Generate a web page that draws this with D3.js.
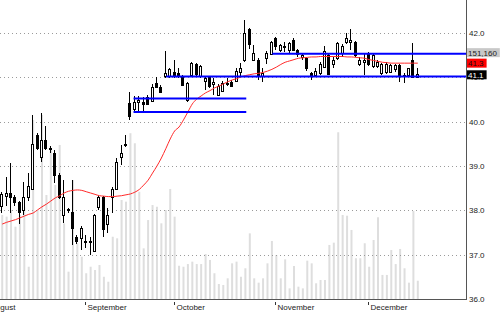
<!DOCTYPE html>
<html>
<head>
<meta charset="utf-8">
<script src="https://cdn.jsdelivr.net/npm/d3@7"></script>
<style>
  body { margin: 0; background: #fff; }
  svg { display: block; font-family: "Liberation Sans", Arial, sans-serif; }
</style>
</head>
<body>
<div id="content"></div>
<script>
// daily bars, one entry per trading day
var opens = [38.10,38.33,38.40,38.30,38.19,38.00,38.30,38.48,39.70,39.20,39.58,39.40,39.30,38.80,37.90,38.00,37.97,37.40,37.38,37.30,
  37.28,37.08,38.08,38.30,37.70,38.30,38.48,39.20,39.48,40.41,40.30,40.45,40.45,40.55,40.48,40.88,40.79,41.03,41.02,41.12,
  41.10,41.03,40.49,41.05,41.30,41.02,40.92,41.00,40.85,40.60,40.70,40.85,40.90,40.93,41.10,41.38,42.10,41.40,41.40,41.03,
  41.43,41.52,41.88,41.60,41.68,41.62,41.85,41.62,41.45,41.43,41.10,41.05,41.10,41.25,41.50,41.30,41.43,41.55,41.80,41.80,
  41.80,41.30,41.35,41.55,41.25,41.25,41.10,41.12,41.13,41.17,41.27,41.05,41.05,41.40,41.02];
var highs = [38.42,38.76,39.07,38.35,38.22,38.65,38.85,40.15,39.75,40.20,39.90,39.45,39.35,38.85,38.68,38.05,38.68,37.45,37.65,37.45,
  37.40,37.92,38.35,38.32,38.05,38.52,39.18,39.47,39.70,40.68,40.57,40.58,40.55,40.60,40.85,41.00,40.82,41.60,41.20,41.40,
  41.20,41.05,40.90,41.35,41.32,41.27,41.00,41.02,40.98,40.85,40.92,40.98,40.95,41.20,41.33,42.30,42.12,41.73,41.43,41.20,
  41.60,41.82,41.92,41.75,41.80,41.80,41.88,41.64,41.55,41.45,41.12,41.20,41.35,41.70,41.52,41.45,41.80,41.75,42.00,42.10,
  41.82,41.45,41.55,41.58,41.55,41.40,41.33,41.35,41.30,41.30,41.30,41.10,41.22,41.78,41.20];
var lows = [37.93,38.10,37.95,38.10,37.70,37.90,38.20,38.45,39.35,39.10,39.35,39.30,38.62,38.25,37.72,37.95,37.22,37.25,37.10,37.15,
  37.00,37.05,38.00,37.40,37.50,37.95,38.45,39.02,39.43,40.04,40.25,40.22,40.22,40.38,40.45,40.75,40.65,40.98,40.98,40.98,
  40.98,40.80,40.45,41.00,41.00,40.98,40.72,40.75,40.60,40.58,40.68,40.80,40.78,40.90,41.02,41.35,41.65,41.38,40.95,40.90,
  41.30,41.50,41.62,41.58,41.58,41.55,41.60,41.45,41.40,41.15,40.94,41.00,41.05,41.22,41.05,41.20,41.40,41.45,41.75,41.62,
  41.45,41.25,41.05,41.25,41.20,41.20,41.05,41.08,41.10,41.12,40.90,40.88,41.00,40.98,41.00];
var closes = [38.37,38.40,38.30,38.19,37.97,38.30,38.55,39.50,39.40,39.58,39.40,39.38,38.80,38.30,38.30,38.02,37.60,37.30,37.60,37.30,
  37.30,37.90,38.30,37.58,37.90,38.48,39.10,39.30,39.50,40.11,40.45,40.50,40.40,40.40,40.79,40.78,40.68,41.10,41.18,41.02,
  41.03,40.83,40.88,41.32,41.08,41.25,40.98,40.80,40.90,40.80,40.88,40.88,40.80,41.15,41.20,42.00,41.77,41.55,41.05,41.10,
  41.55,41.80,41.70,41.72,41.70,41.77,41.63,41.52,41.50,41.20,41.03,41.15,41.30,41.60,41.08,41.40,41.77,41.70,41.88,41.85,
  41.50,41.40,41.40,41.30,41.50,41.35,41.30,41.30,41.28,41.27,41.02,41.05,41.20,41.02,41.08];
var volumes = [695000,681000,736000,598000,695000,763000,267000,1480000,736000,1522000,860000,1232000,943000,1274000,626000,226000,984000,461000,350000,213000,
  267000,240000,281000,184000,143000,515000,502000,819000,805000,1371000,1288000,887000,419000,653000,777000,763000,626000,736000,910000,681000,
  275000,267000,289000,309000,289000,289000,372000,323000,213000,124000,116000,171000,295000,309000,184000,254000,543000,171000,135000,171000,
  295000,480000,364000,171000,328000,88000,273000,102000,88000,317000,295000,130000,157000,157000,447000,466000,1379000,695000,689000,571000,
  337000,337000,461000,267000,488000,676000,199000,199000,405000,289000,414000,254000,135000,728000,151160];
var movingAvg = [37.69,37.73,37.76,37.79,37.83,37.87,37.91,37.94,38.01,38.08,38.14,38.21,38.28,38.33,38.39,38.43,38.45,38.46,38.45,38.42,
  38.39,38.36,38.33,38.32,38.31,38.31,38.32,38.33,38.35,38.37,38.41,38.47,38.57,38.68,38.84,39.00,39.18,39.39,39.61,39.79,
  39.88,40.04,40.22,40.40,40.51,40.58,40.65,40.70,40.76,40.80,40.85,40.90,40.94,40.97,41.01,41.04,41.06,41.08,41.09,41.11,
  41.14,41.18,41.23,41.29,41.34,41.37,41.40,41.43,41.44,41.45,41.46,41.46,41.47,41.47,41.47,41.47,41.47,41.47,41.46,41.46,
  41.45,41.44,41.43,41.40,41.38,41.36,41.34,41.33,41.32,41.32,41.32,41.32,41.32,41.32,41.32];

// month labels and the bar where each month starts
var monthLabels = ["August", "September", "October", "November", "December"];
var monthStarts = [-3, 19, 39, 62, 83];
var priceTicks = [36, 37, 38, 39, 40, 41, 42];

// horizontal levels drawn on the chart (price, first bar, last bar; null = to the edge)
var levelPrices = [40.52, 40.22, 41.02, 41.53];
var levelFrom = [29.7, 29.7, 37.1, 61.1];
var levelTo = [55.2, 55.2, null, null];

var width = 500, height = 312;
var plotRight = 466, plotBottom = 299;

var svg = d3.select("#content")
  .append("svg")
  .attr("width", width)
  .attr("height", height);

svg.append("rect").attr("width", width).attr("height", height).attr("fill", "#fff");

var x = d3.scaleLinear().domain([-0.5, 104.9]).range([0, plotRight]);
var y = d3.scaleLinear().domain([36, 42]).range([plotBottom, 33]);
var yVol = d3.scaleLinear().domain([0, 2200000]).range([plotBottom, 33]);

var bars = d3.range(closes.length);

svg.append("clipPath").attr("id", "plot")
  .append("rect").attr("x", 0).attr("y", 0).attr("width", plotRight).attr("height", plotBottom);

var plot = svg.append("g").attr("clip-path", "url(#plot)");

// volume
plot.selectAll(".vol")
  .data(bars)
  .enter()
  .append("rect")
  .attr("x", function (i) { return x(i) - 1; })
  .attr("width", 2)
  .attr("y", function (i) { return yVol(volumes[i]); })
  .attr("height", function (i) { return plotBottom - yVol(volumes[i]); })
  .attr("fill", "#dedede");

// dotted grid
plot.selectAll(".grid")
  .data(priceTicks)
  .enter()
  .append("line")
  .attr("x1", 0)
  .attr("x2", plotRight)
  .attr("y1", function (d) { return Math.round(y(d)) + 0.5; })
  .attr("y2", function (d) { return Math.round(y(d)) + 0.5; })
  .attr("stroke", "#9a9a9a")
  .attr("stroke-dasharray", "1,3");

// candles
var candle = plot.selectAll(".candle")
  .data(bars)
  .enter()
  .append("g")
  .attr("shape-rendering", "crispEdges");

candle.append("line")
  .attr("x1", function (i) { return Math.round(x(i)) - 0.5; })
  .attr("x2", function (i) { return Math.round(x(i)) - 0.5; })
  .attr("y1", function (i) { return y(highs[i]); })
  .attr("y2", function (i) { return y(lows[i]); })
  .attr("stroke", "#000");

candle.append("rect")
  .attr("x", function (i) { return Math.round(x(i)) - 1.5; })
  .attr("width", 2)
  .attr("y", function (i) { return Math.round(y(Math.max(opens[i], closes[i]))) + 0.5; })
  .attr("height", function (i) { return Math.max(1, Math.round(Math.abs(y(opens[i]) - y(closes[i])))); })
  .attr("fill", function (i) { return closes[i] < opens[i] ? "#000" : "#fff"; })
  .attr("stroke", "#000");

// moving average
plot.append("path")
  .datum(bars)
  .attr("fill", "none")
  .attr("stroke", "#ff2a2a")
  .attr("stroke-width", 1)
  .attr("d", d3.line()
    .x(function (i) { return x(i); })
    .y(function (i) { return y(movingAvg[i]); })
    .curve(d3.curveMonotoneX));

// levels
plot.selectAll(".level")
  .data(levelPrices)
  .enter()
  .append("line")
  .attr("x1", function (d, k) { return x(levelFrom[k]); })
  .attr("x2", function (d, k) { return levelTo[k] === null ? plotRight : x(levelTo[k]); })
  .attr("y1", function (d) { return y(d); })
  .attr("y2", function (d) { return y(d); })
  .attr("stroke", "#0000ff")
  .attr("stroke-width", 2);

// axes lines
svg.append("line")
  .attr("x1", plotRight + 0.5).attr("x2", plotRight + 0.5)
  .attr("y1", 0).attr("y2", plotBottom + 1)
  .attr("stroke", "#555");
svg.append("line")
  .attr("x1", 0).attr("x2", plotRight + 1)
  .attr("y1", plotBottom + 0.5).attr("y2", plotBottom + 0.5)
  .attr("stroke", "#555");

// price labels
svg.selectAll(".ptick")
  .data(priceTicks)
  .enter()
  .append("text")
  .attr("x", plotRight + 3)
  .attr("y", function (d) { return y(d) + 3; })
  .attr("font-size", 8)
  .attr("fill", "#222")
  .text(function (d) { return d.toFixed(1); });

// month labels
var months = svg.selectAll(".month")
  .data(monthLabels)
  .enter()
  .append("g")
  .attr("transform", function (d, k) { return "translate(" + (Math.round(x(monthStarts[k])) - 0.5) + ",0)"; });
months.append("line")
  .attr("y1", 302).attr("y2", 305)
  .attr("stroke", "#333");
months.append("text")
  .attr("x", 2)
  .attr("y", 309.5)
  .attr("font-size", 8)
  .attr("fill", "#222")
  .text(function (d) { return d; });

// last value boxes
var last = closes.length - 1;
var fmt = d3.format(",");
var boxes = [
  { text: fmt(volumes[last]), cy: y(movingAvg[last]) - 10.5, bg: "#c8c8c8", fg: "#222" },
  { text: movingAvg[last].toFixed(1), cy: y(movingAvg[last]), bg: "#ff0000", fg: "#111" },
  { text: closes[last].toFixed(1), cy: y(closes[last]) + 1, bg: "#000", fg: "#fff" }
];
var box = svg.selectAll(".box")
  .data(boxes)
  .enter()
  .append("g");
box.append("rect")
  .attr("x", plotRight + 1)
  .attr("y", function (d) { return d.cy - 4.5; })
  .attr("height", 9)
  .attr("width", function (d) { return d.text.length * 4.4 + 2; })
  .attr("fill", function (d) { return d.bg; });
box.append("text")
  .attr("x", plotRight + 2)
  .attr("y", function (d) { return d.cy + 3; })
  .attr("font-size", 8)
  .attr("fill", function (d) { return d.fg; })
  .text(function (d) { return d.text; });
</script>
</body>
</html>
